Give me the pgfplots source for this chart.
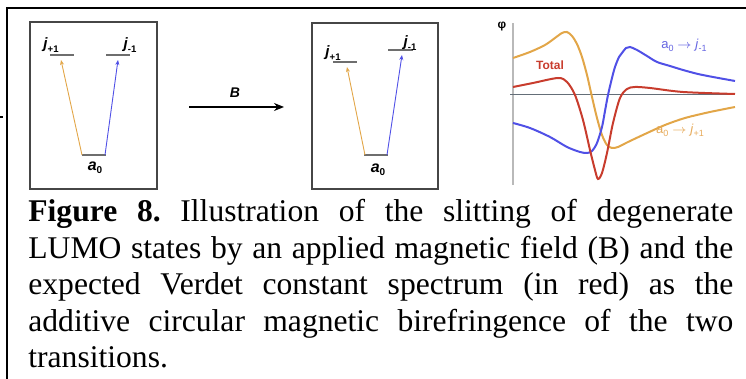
\documentclass[border=0pt]{standalone}
\usepackage{fontspec}
\setmainfont{Liberation Serif}
\setsansfont{Liberation Sans}
\usepackage{graphicx}
\usepackage{pgfplots}
\pgfplotsset{compat=1.18}
\usetikzlibrary{arrows.meta}
\definecolor{lvl}{RGB}{110,110,110}
\definecolor{boxc}{RGB}{70,70,70}
\definecolor{orangec}{RGB}{226,166,72}
\definecolor{bluec}{RGB}{80,80,230}
\definecolor{redc}{RGB}{200,60,45}
\definecolor{bluet}{RGB}{100,100,225}
\definecolor{oranget}{RGB}{230,170,90}
\definecolor{axisc}{RGB}{100,110,120}
\begin{document}
\frenchspacing
\begin{tikzpicture}
\begin{axis}[name=main, scale only axis, width=373pt, height=189.5pt,
  xmin=0, xmax=746, ymin=0, ymax=379, y dir=reverse, hide axis, clip=false]
% outer frame
\addplot[black, line width=0.6pt] coordinates {(7,379)(7,8)(746,8)};
\addplot[black, line width=0.6pt] coordinates {(0,117)(3,117)};
% left box
\addplot[boxc, line width=0.8pt, line join=miter] coordinates {(90,22)(157,22)(157,189)(30,189)(30,22)(91,22)};
% middle box
\addplot[boxc, line width=0.8pt, line join=miter] coordinates {(375,23)(438,23)(438,189)(312,189)(312,23)(376,23)};
% levels left
\addplot[lvl, line width=0.8pt] coordinates {(50,55)(74,55)};
\addplot[lvl, line width=0.8pt] coordinates {(106,55)(130,55)};
\addplot[lvl, line width=0.8pt] coordinates {(82,155)(106,155)};
% levels middle
\addplot[lvl, line width=0.8pt] coordinates {(333,62)(357,62)};
\addplot[lvl, line width=0.8pt] coordinates {(388,50)(413,50)};
\addplot[lvl, line width=0.8pt] coordinates {(364,155)(388,155)};
% transitions
\addplot[orangec, line width=0.45pt, -{Stealth[length=2.5pt,width=2pt]}] coordinates {(82,155)(61,60)};
\addplot[bluec, line width=0.45pt, -{Stealth[length=2.5pt,width=2pt]}] coordinates {(105,155)(118,60)};
\addplot[orangec, line width=0.45pt, -{Stealth[length=2.5pt,width=2pt]}] coordinates {(365,155)(347,67)};
\addplot[bluec, line width=0.45pt, -{Stealth[length=2.5pt,width=2pt]}] coordinates {(387,155)(402,55)};
% B arrow
\addplot[black, line width=0.6pt, -{Stealth[length=5pt,width=4pt]}] coordinates {(189,107)(284,107)};
\node[font=\sffamily\bfseries\itshape\fontsize{7}{7}\selectfont] at (axis cs:235,93) {B};
% labels
\node[font=\sffamily\bfseries\fontsize{7.5}{7.5}\selectfont] at (axis cs:51,45) {\textit{j}\raisebox{-0.4ex}{\fontsize{4.8}{5}\selectfont +1}};
\node[font=\sffamily\bfseries\fontsize{7.5}{7.5}\selectfont] at (axis cs:130,45) {\textit{j}\raisebox{-0.4ex}{\fontsize{4.8}{5}\selectfont -1}};
\node[font=\sffamily\bfseries\fontsize{8}{8}\selectfont] at (axis cs:95,168) {\textit{a}\raisebox{-0.4ex}{\fontsize{5}{5}\selectfont 0}};
\node[font=\sffamily\bfseries\fontsize{7.5}{7.5}\selectfont] at (axis cs:333,53) {\textit{j}\raisebox{-0.4ex}{\fontsize{4.8}{5}\selectfont +1}};
\node[font=\sffamily\bfseries\fontsize{7.5}{7.5}\selectfont] at (axis cs:410,43) {\textit{j}\raisebox{-0.4ex}{\fontsize{4.8}{5}\selectfont -1}};
\node[font=\sffamily\bfseries\fontsize{8}{8}\selectfont] at (axis cs:378,170) {\textit{a}\raisebox{-0.4ex}{\fontsize{5}{5}\selectfont 0}};
% caption
\node[anchor=base west, inner sep=0pt] at (axis cs:28,222) {\parbox[t]{352.5pt}{\fontsize{15.8}{18.25}\selectfont\frenchspacing
\textbf{Figure 8.} Illustration of the slitting of degenerate\linebreak
LUMO states by an applied magnetic field (B) and the\linebreak
expected Verdet constant spectrum (in red) as the\linebreak
additive circular magnetic birefringence of the two\linebreak
transitions.}};
\coordinate (cb) at (axis cs:513,185);
\end{axis}
\begin{axis}[at={(cb)}, anchor=south west, scale only axis, width=111pt, height=81pt,
  xmin=0, xmax=222, ymin=-90, ymax=72, hide axis, clip=false]
\addplot[gray!55, line width=1pt] coordinates {(0,-90)(0,72)};
\addplot[axisc, line width=0.5pt] coordinates {(-3,0)(222,0)};
% a0 -> j+1 (orange)
\addplot[orangec, line width=1pt, smooth, tension=0.5] coordinates {
(0,37)(17,43)(32,50)(42,57)(49,62)(54,63)(59,59)(64,51)(69,38)(74,20)(79,-2)(84,-23)(89,-40)(94,-50)(99,-53)(105,-52)(115,-47)(132,-39)(152,-30)(172,-23)(197,-17)(222,-12)};
% a0 -> j-1 (blue)
\addplot[bluec, line width=1pt, smooth, tension=0.5] coordinates {
(0,-28)(17,-33)(37,-42)(54,-52)(67,-57)(74,-58)(79,-56)(84,-48)(89,-32)(92,-16)(95,0)(99,17)(102,28)(106,38)(109,42)(113,47)(117,48)(124,45)(134,39)(144,33)(157,29)(170,25)(185,21)(200,18)(222,14)};
% total (red)
\addplot[redc, line width=1pt, smooth, tension=0.5] coordinates {
(0,8)(20,12)(45,17)(54,13)(62,0)(70,-25)(77,-55)(82,-75)(85,-84)(89,-78)(94,-58)(100,-28)(107,-3)(114,6)(122,8)(137,7)(170,3)(222,1)};
\node[font=\sffamily\bfseries\fontsize{6}{6}\selectfont] at (axis cs:-11,68) {φ};
\node[redc, font=\sffamily\bfseries\fontsize{6}{6}\selectfont] at (axis cs:37,30) {Total};
\node[bluet, font=\sffamily\fontsize{6.5}{6.5}\selectfont] at (axis cs:171,50) {a\raisebox{-0.4ex}{\fontsize{4.5}{5}\selectfont 0} $\rightarrow$ \textit{j}\raisebox{-0.4ex}{\fontsize{4.5}{5}\selectfont -1}};
\node[oranget, font=\sffamily\fontsize{6.5}{6.5}\selectfont] at (axis cs:167,-35) {a\raisebox{-0.4ex}{\fontsize{4.5}{5}\selectfont 0} $\rightarrow$ \textit{j}\raisebox{-0.4ex}{\fontsize{4.5}{5}\selectfont +1}};
\end{axis}
\pgfresetboundingbox
\path[use as bounding box] (main.south west) rectangle (main.north east);
\end{tikzpicture}
\end{document}
